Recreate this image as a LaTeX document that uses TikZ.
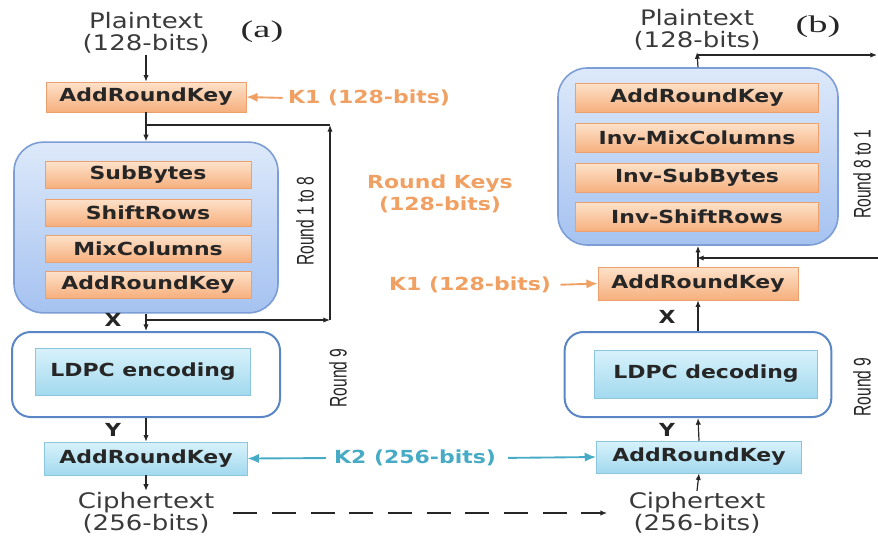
\documentclass[tikz,border=0pt]{standalone}
\usepackage{fontspec}
\usetikzlibrary{arrows.meta}
\newfontfamily\lblfont[FakeStretch=1.22]{DejaVu Sans}
\newfontfamily\rndfont[FakeStretch=0.65]{Liberation Sans}
\newfontfamily\tagfont[FakeStretch=1.6]{Liberation Serif}
\definecolor{orgTop}{HTML}{FDE2CA}
\definecolor{orgBot}{HTML}{F6AF7D}
\definecolor{orgLine}{HTML}{ECA06E}
\definecolor{orgText}{HTML}{F0A062}
\definecolor{cyTop}{HTML}{D8F2FB}
\definecolor{cyBot}{HTML}{A2D9EE}
\definecolor{cyLine}{HTML}{8CC6DE}
\definecolor{cyText}{HTML}{47ABC6}
\definecolor{rbTop}{HTML}{DDE9FA}
\definecolor{rbBot}{HTML}{A5C2F0}
\definecolor{rbLine}{HTML}{7C9DD6}
\definecolor{ldLine}{HTML}{5A86C6}
\definecolor{inkc}{HTML}{262626}
\definecolor{iogray}{HTML}{3A3A3A}
\tikzset{
  keybox/.style={draw=orgLine, top color=orgTop, bottom color=orgBot, text=inkc,
    font=\lblfont\bfseries\fontsize{13.5}{15}\selectfont, inner sep=0pt},
  ldbox/.style={draw=cyLine, top color=cyTop, bottom color=cyBot, text=inkc,
    font=\lblfont\bfseries\fontsize{13.5}{15}\selectfont, inner sep=0pt},
  roundbox/.style={draw=rbLine, line width=1.2pt, top color=rbTop, bottom color=rbBot,
    rounded corners=22pt, inner sep=0pt},
  ldpcbox/.style={draw=ldLine, line width=1.5pt, fill=white, rounded corners=14pt, inner sep=0pt},
  iotext/.style={text=iogray, align=center, inner sep=1pt, font=\lblfont\fontsize{16}{16.5}\selectfont},
  orglbl/.style={text=orgText, align=center, inner sep=1pt, font=\lblfont\bfseries\fontsize{13.5}{16.5}\selectfont},
  cylbl/.style={text=cyText, inner sep=1pt, font=\lblfont\bfseries\fontsize{13.5}{15}\selectfont},
  xylbl/.style={text=inkc, font=\lblfont\bfseries\fontsize{13.5}{15}\selectfont},
  rndlbl/.style={text=inkc, rotate=90, font=\rndfont\fontsize{18}{18}\selectfont},
  taglbl/.style={text=inkc, font=\tagfont\fontsize{18}{18}\selectfont},
  flow/.style={draw=inkc, line width=0.9pt, -{Latex[length=5pt,width=4pt]}},
  keyflow/.style={line width=1.4pt, -{Latex[length=8.5pt,width=7pt]}}
}
\begin{document}
\begin{tikzpicture}[x=0.75pt,y=-0.75pt]
  \useasboundingbox (0,0) rectangle (878,537);
  % (a) encryption
  \node[iotext] (pt1) at (146,33) {Plaintext\\(128-bits)};
  \node[taglbl] (ta) at (262,32) {(a)};
  \node[keybox, minimum width=150pt, minimum height=22.5pt] (ark1) at (146,97) {AddRoundKey};
  \node[orglbl] (k1a) at (369,98) {K1 (128-bits)};
  \node[roundbox, minimum width=198pt, minimum height=128pt] (rnd1) at (146,227.5) {};
  \node[keybox, minimum width=154.5pt, minimum height=20.25pt] (sb) at (148,175) {SubBytes};
  \node[keybox, minimum width=154.5pt, minimum height=20.25pt] (sr) at (148,212.5) {ShiftRows};
  \node[keybox, minimum width=154.5pt, minimum height=20.25pt] (mc) at (148,248.5) {MixColumns};
  \node[keybox, minimum width=154.5pt, minimum height=20.25pt] (ark1b) at (148,284.5) {AddRoundKey};
  \node[rndlbl] (r18) at (305,221) {Round 1 to 8};
  \node[xylbl] (xa) at (113,320) {X};
  \node[ldpcbox, minimum width=201pt, minimum height=63.75pt] (ld1) at (146,374.5) {};
  \node[ldbox, minimum width=161pt, minimum height=35.25pt] (enc) at (143,371.5) {LDPC encoding};
  \node[rndlbl] (r9a) at (338,378) {Round 9};
  \node[xylbl] (ya) at (113,430) {Y};
  \node[ldbox, minimum width=152pt, minimum height=24.75pt] (ark2) at (146,458.5) {AddRoundKey};
  \node[iotext] (ct1) at (146,513) {Ciphertext\\(256-bits)};
  % (b) decryption
  \node[iotext] (pt2) at (697,30) {Plaintext\\(128-bits)};
  \node[taglbl] (tb) at (818,27) {(b)};
  \node[roundbox, minimum width=210pt, minimum height=132.75pt] (rnd2) at (698,156.5) {};
  \node[keybox, minimum width=182pt, minimum height=21.75pt] (iark) at (697,97.5) {AddRoundKey};
  \node[keybox, minimum width=182pt, minimum height=21.75pt] (imc) at (697,138) {Inv-MixColumns};
  \node[keybox, minimum width=182pt, minimum height=21.75pt] (isb) at (697,178) {Inv-SubBytes};
  \node[keybox, minimum width=182pt, minimum height=21.75pt] (isr) at (697,217) {Inv-ShiftRows};
  \node[rndlbl] (r81) at (862,174) {Round 8 to 1};
  \node[orglbl] (rk) at (440,194) {Round Keys\\(128-bits)};
  \node[keybox, minimum width=150pt, minimum height=24.75pt] (ark3) at (698,283.5) {AddRoundKey};
  \node[orglbl] (k1b) at (470,285) {K1 (128-bits)};
  \node[xylbl] (xb) at (667,317) {X};
  \node[ldpcbox, minimum width=200pt, minimum height=63.75pt] (ld2) at (698,374.5) {};
  \node[ldbox, minimum width=167pt, minimum height=36pt] (dec) at (706,374) {LDPC decoding};
  \node[rndlbl] (r9b) at (862,387) {Round 9};
  \node[xylbl] (yb) at (667,430) {Y};
  \node[ldbox, minimum width=154pt, minimum height=24pt] (ark4) at (699,457) {AddRoundKey};
  \node[cylbl] (k2) at (415,458) {K2 (256-bits)};
  \node[iotext] (ct2) at (697,513) {Ciphertext\\(256-bits)};
  \coordinate (j1) at (146,125);
  \coordinate (j2) at (146,320);
  \coordinate (c1) at (330,320);
  \coordinate (c2) at (330,125);
  \coordinate (j3) at (697,258);
  \coordinate (e1) at (878,258);
  \coordinate (j4) at (697,55);
  \coordinate (e2) at (877,55);
  % connectors (a)
  \draw[flow] (pt1.south) -- (ark1.north);
  \draw[flow] (ark1.south) -- (rnd1.north);
  \draw[flow] (rnd1.south) -- (ld1.north);
  \draw[flow] (j2) -- (c1);
  \draw[flow] (c1) -- (c2);
  \draw[draw=inkc, line width=0.9pt] (c2) -- (j1);
  \draw[flow] (ld1.south) -- (ark2.north);
  \draw[flow] (ark2.south) -- (ct1.north);
  \draw[keyflow, draw=orgText, fill=orgText, shorten <=3pt] (k1a.west) -- (ark1.east);
  % connectors (b)
  \draw[flow] (ct2.north) -- (ark4.south);
  \draw[flow] (ark4.north) -- (ld2.south);
  \draw[flow] (ld2.north) -- (ark3.south);
  \draw[flow] (ark3.north) -- (rnd2.south);
  \draw[flow] (e1) -- (j3);
  \draw[flow] (rnd2.north) -- (pt2.south);
  \draw[flow] (j4) -- (e2);
  \draw[keyflow, draw=orgText, shorten <=6pt] (k1b.east) -- (ark3.west);
  \draw[keyflow, draw=cyText, shorten <=5pt] (k2.west) -- (ark2.east);
  \draw[keyflow, draw=cyText, shorten <=8pt] (k2.east) -- (ark4.west);
  \draw[flow, line width=1.3pt, dash pattern=on 18pt off 11pt, shorten <=13pt, shorten >=15pt] (ct1.east) -- (ct2.west);
\end{tikzpicture}
\end{document}
